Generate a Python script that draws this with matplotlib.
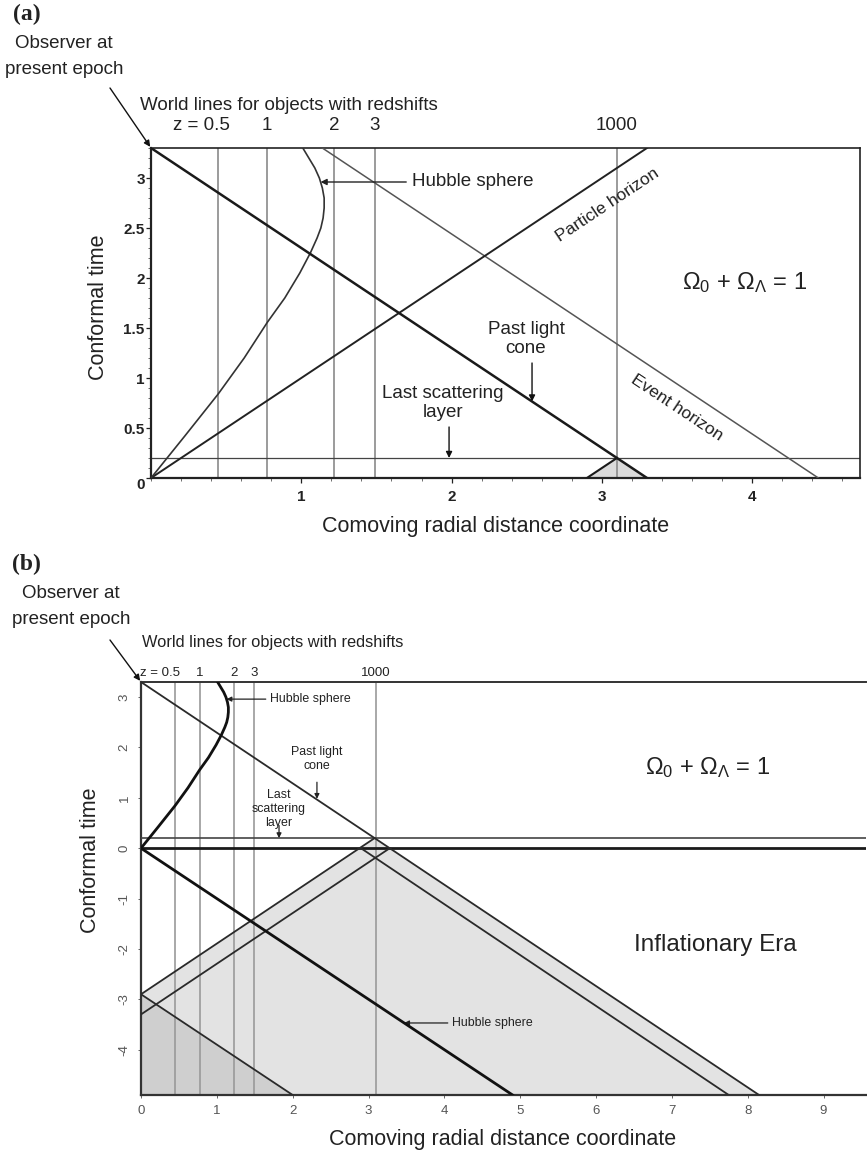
import matplotlib
matplotlib.use("Agg")
import matplotlib.pyplot as plt
from matplotlib.ticker import MultipleLocator

plt.rcParams["font.family"] = ["Liberation Sans", "DejaVu Sans"]
plt.rcParams["mathtext.fontset"] = "custom"
plt.rcParams["mathtext.rm"] = "Liberation Sans"
plt.rcParams["mathtext.it"] = "Liberation Sans:italic"
plt.rcParams["mathtext.bf"] = "Liberation Sans:bold"
plt.rcParams["axes.unicode_minus"] = False

# ---------------------------------------------------------------- data
# comoving distance (units of c/H0) of objects at selected redshifts
redshift_labels = ["z = 0.5", "1", "2", "3", "1000"]
redshift_chi = [0.447, 0.773, 1.22, 1.487, 3.10]

eta_now = 3.3      # present conformal time
eta_ls = 0.2       # last scattering
eta_bottom_b = -4.9

# comoving Hubble sphere
hubble_chi = [0.0, 0.225, 0.447, 0.62, 0.774, 0.89, 0.99, 1.06, 1.105, 1.13, 1.145,
              1.152, 1.152, 1.14, 1.12, 1.09, 1.05, 1.01]
hubble_eta = [0.0, 0.42, 0.84, 1.20, 1.557, 1.80, 2.05, 2.25, 2.40, 2.50, 2.60,
              2.70, 2.80, 2.90, 3.00, 3.10, 3.20, 3.30]

# panel (a) light rays
past_cone_chi = [0.0, 3.3]
past_cone_eta = [3.3, 0.0]
particle_chi = [0.0, 3.3]
particle_eta = [0.0, 3.3]
event_chi = [1.14, 4.44]
event_eta = [3.3, 0.0]
ls_patch_chi = [2.9, 3.1, 3.3]
ls_patch_eta = [0.0, 0.2, 0.0]
ls_edge_chi = [2.9, 3.1]
ls_edge_eta = [0.0, 0.2]

# panel (b) light rays through the inflationary era
cone_b_chi = [0.0, 8.15]
cone_b_eta = [3.3, -4.9]
back_left_chi = [0.0, 3.08]
back_left_eta = [-2.9, 0.2]
back_left2_chi = [0.0, 3.28]
back_left2_eta = [-3.3, 0.0]
back_right_chi = [2.9, 7.75]
back_right_eta = [0.0, -4.9]
early_cone_chi = [0.0, 2.0]
early_cone_eta = [-2.9, -4.9]
hubble_infl_chi = [0.0, 4.9]
hubble_infl_eta = [0.0, -4.9]
infl_region_chi = [0.0, 3.08, 8.15, 0.0]
infl_region_eta = [-2.9, 0.2, -4.9, -4.9]
early_region_chi = [0.0, 2.0, 0.0]
early_region_eta = [-2.9, -4.9, -4.9]

a_yticks = [0, 0.5, 1, 1.5, 2, 2.5, 3]
a_ytick_labels = ["0", "0.5", "1", "1.5", "2", "2.5", "3"]
a_xticks = [1, 2, 3, 4]
b_xticks = [0, 1, 2, 3, 4, 5, 6, 7, 8, 9]
b_yticks = [-4, -3, -2, -1, 0, 1, 2, 3]

# ---------------------------------------------------------------- layout
W, H = 867, 1154
fig = plt.figure(figsize=(W / 100, H / 100), dpi=100)


def fx(px):
    return px / W


def fy(py):
    return 1 - py / H


def add_axes_px(left, top, right, bottom):
    return fig.add_axes([fx(left), fy(bottom), (right - left) / W, (bottom - top) / H])


arrow_kw = dict(arrowstyle="-|>", color="#111111", lw=1.0, shrinkA=0, shrinkB=0,
                mutation_scale=9)

# ================================================================ panel (a)
ax = add_axes_px(151, 148, 860, 478)
ax.set_xlim(0, 4.717)
ax.set_ylim(0, eta_now)

ax.fill(ls_patch_chi, ls_patch_eta, color="#dadada", zorder=1, lw=0)
for chi in redshift_chi:
    ax.axvline(chi, color="#8a8a8a", lw=1.2, zorder=2)
ax.axhline(eta_ls, color="#444444", lw=0.9, zorder=2)
ax.plot(event_chi, event_eta, color="#555555", lw=1.1, zorder=3)
ax.plot(particle_chi, particle_eta, color="#222222", lw=1.4, zorder=3)
ax.plot(hubble_chi, hubble_eta, color="#333333", lw=1.2, zorder=3)
ax.plot(past_cone_chi, past_cone_eta, color="#1a1a1a", lw=1.8, zorder=4)
ax.plot(ls_edge_chi, ls_edge_eta, color="#1a1a1a", lw=1.5, zorder=4)

for sp in ax.spines.values():
    sp.set_linewidth(1.2)
    sp.set_color("#222222")
ax.spines["left"].set_linewidth(1.6)
ax.spines["bottom"].set_linewidth(1.6)

ax.set_xticks(a_xticks)
ax.set_xticklabels([str(t) for t in a_xticks])
ax.set_yticks(a_yticks)
ax.set_yticklabels(a_ytick_labels)
ax.xaxis.set_minor_locator(MultipleLocator(0.2))
ax.yaxis.set_minor_locator(MultipleLocator(0.1))
ax.tick_params(which="major", direction="out", length=3.5, width=0.9, labelsize=11, pad=5,
               colors="#222222")
ax.tick_params(axis="y", which="major", pad=1)
ax.tick_params(which="minor", direction="out", length=2, width=0.6, colors="#555555")
for lab in ax.get_xticklabels() + ax.get_yticklabels():
    lab.set_fontweight("bold")
ax.get_yticklabels()[0].set_va("top")

# redshift labels above the world lines
for lab, chi in zip(redshift_labels, redshift_chi):
    if lab.startswith("z"):
        ax.annotate(lab, xy=(chi, 1), xycoords=("data", "axes fraction"), xytext=(8.6, 16.5),
                    textcoords="offset points", ha="right", va="center", fontsize=13.5,
                    color="#222222")
    else:
        ax.annotate(lab, xy=(chi, 1), xycoords=("data", "axes fraction"), xytext=(0, 16.5),
                    textcoords="offset points", ha="center", va="center", fontsize=13.5,
                    color="#222222")

ax.annotate("Hubble sphere", xy=(1.128, 2.96), xytext=(1.735, 2.96), ha="left", va="center",
            fontsize=13.5, color="#222222",
            arrowprops=dict(arrowstyle="-|>", color="#222222", lw=1.0, shrinkA=2, shrinkB=0,
                            mutation_scale=9))
ax.text(2.495, 1.39, "Past light\ncone", ha="center", va="center", fontsize=13.5,
        linespacing=1.15, color="#222222")
ax.annotate("", xy=(2.535, 0.765), xytext=(2.535, 1.15), arrowprops=arrow_kw)
ax.text(1.943, 0.75, "Last scattering\nlayer", ha="center", va="center", fontsize=13.5,
        linespacing=1.15, color="#222222")
ax.annotate("", xy=(1.983, 0.2), xytext=(1.983, 0.51), arrowprops=arrow_kw)
ax.text(3.04, 2.73, "Particle horizon", rotation=33.6, rotation_mode="anchor", ha="center",
        va="center", fontsize=12.5, color="#222222")
ax.text(3.50, 0.70, "Event horizon", rotation=-33.6, rotation_mode="anchor", ha="center",
        va="center", fontsize=12.5, color="#222222")
ax.text(3.95, 1.95, r"$\Omega_0$ + $\Omega_\Lambda$ = 1", ha="center", va="center",
        fontsize=17, color="#222222")

ax.annotate("", xy=(0, eta_now), xycoords="data", xytext=(fx(110), fy(88)),
            textcoords="figure fraction", arrowprops=dict(arrow_kw, shrinkB=1))

fig.text(fx(27), fy(14), "(a)", fontsize=17, fontweight="bold", family="Liberation Serif",
         ha="center", va="center", color="#222222")
fig.text(fx(64), fy(43), "Observer at", fontsize=13.5, ha="center", va="center", color="#222222")
fig.text(fx(64), fy(70), "present epoch", fontsize=13.5, ha="center", va="center", color="#222222")
fig.text(fx(289), fy(105), "World lines for objects with redshifts", fontsize=13.5, ha="center",
         va="center", color="#222222")
fig.text(fx(98), fy(307), "Conformal time", rotation=90, fontsize=15.5, ha="center", va="center",
         color="#222222")
fig.text(fx(496), fy(527), "Comoving radial distance coordinate", fontsize=15.5, ha="center",
         va="center", color="#222222")

# ================================================================ panel (b)
bx = add_axes_px(141, 682, 866, 1095)
bx.set_xlim(0, 9.56)
bx.set_ylim(eta_bottom_b, eta_now)

bx.fill(infl_region_chi, infl_region_eta, color="#e3e3e3", lw=0, zorder=1)
bx.fill(early_region_chi, early_region_eta, color="#cfcfcf", lw=0, zorder=1)
for chi in redshift_chi:
    bx.axvline(chi, color="#9a9a9a", lw=1.2, zorder=2)
bx.axhline(eta_ls, color="#444444", lw=1.2, zorder=3)
bx.axhline(0, color="#1a1a1a", lw=2.0, zorder=3)
for xs, ys in [(cone_b_chi, cone_b_eta), (back_left_chi, back_left_eta),
               (back_left2_chi, back_left2_eta), (back_right_chi, back_right_eta),
               (early_cone_chi, early_cone_eta)]:
    bx.plot(xs, ys, color="#2a2a2a", lw=1.3, zorder=4)
bx.plot(hubble_chi, hubble_eta, color="#111111", lw=2.0, zorder=4)
bx.plot(hubble_infl_chi, hubble_infl_eta, color="#111111", lw=2.0, zorder=4)

bx.spines["right"].set_visible(False)
bx.spines["left"].set_linewidth(1.6)
bx.spines["bottom"].set_linewidth(1.6)
bx.spines["top"].set_linewidth(1.4)
for s in ("left", "bottom", "top"):
    bx.spines[s].set_color("#333333")

bx.set_xticks(b_xticks)
bx.set_yticks(b_yticks)
bx.tick_params(direction="out", length=2.5, width=0.7, labelsize=9.5, colors="#666666",
               labelcolor="#555555", pad=5)
for lab in bx.get_yticklabels():
    lab.set_rotation(90)
    lab.set_va("center")

for lab, chi in zip(redshift_labels, redshift_chi):
    if lab.startswith("z"):
        bx.annotate(lab, xy=(chi, 1), xycoords=("data", "axes fraction"), xytext=(3.6, 6.5),
                    textcoords="offset points", ha="right", va="center", fontsize=9.5,
                    color="#222222")
    else:
        bx.annotate(lab, xy=(chi, 1), xycoords=("data", "axes fraction"), xytext=(0, 6.5),
                    textcoords="offset points", ha="center", va="center", fontsize=9.5,
                    color="#222222")

small_arrow = dict(arrowstyle="-|>", color="#222222", lw=0.9, shrinkA=1, shrinkB=0,
                   mutation_scale=7)
bx.annotate("Hubble sphere", xy=(1.128, 2.96), xytext=(1.70, 2.96), ha="left", va="center",
            fontsize=8.9, color="#222222", arrowprops=small_arrow)
bx.annotate("Hubble sphere", xy=(3.47, -3.47), xytext=(4.10, -3.47), ha="left", va="center",
            fontsize=8.9, color="#222222", arrowprops=small_arrow)
bx.text(2.32, 1.77, "Past light\ncone", ha="center", va="center", fontsize=8.9,
        linespacing=1.2, color="#222222")
bx.annotate("", xy=(2.32, 0.98), xytext=(2.32, 1.31), arrowprops=dict(small_arrow, shrinkA=0))
bx.text(1.82, 0.78, "Last\nscattering\nlayer", ha="center", va="center", fontsize=8.9,
        linespacing=1.2, color="#222222")
bx.annotate("", xy=(1.82, 0.2), xytext=(1.82, 0.45), arrowprops=dict(small_arrow, shrinkA=0))
bx.text(7.47, 1.61, r"$\Omega_0$ + $\Omega_\Lambda$ = 1", ha="center", va="center",
        fontsize=17, color="#222222")
bx.text(7.57, -1.93, "Inflationary Era", ha="center", va="center", fontsize=17.5,
        color="#222222")

bx.annotate("", xy=(0, eta_now), xycoords="data", xytext=(fx(110), fy(640)),
            textcoords="figure fraction", arrowprops=dict(arrow_kw, shrinkB=1))

fig.text(fx(26), fy(564), "(b)", fontsize=17, fontweight="bold", family="Liberation Serif",
         ha="center", va="center", color="#222222")
fig.text(fx(71), fy(593), "Observer at", fontsize=13.5, ha="center", va="center", color="#222222")
fig.text(fx(71), fy(620), "present epoch", fontsize=13.5, ha="center", va="center",
         color="#222222")
fig.text(fx(273), fy(643), "World lines for objects with redshifts", fontsize=11.8,
         ha="center", va="center", color="#222222")
fig.text(fx(90), fy(860), "Conformal time", rotation=90, fontsize=15.5, ha="center",
         va="center", color="#222222")
fig.text(fx(503), fy(1140), "Comoving radial distance coordinate", fontsize=15.5, ha="center",
         va="center", color="#222222")

fig.savefig("out.png", dpi=100)
